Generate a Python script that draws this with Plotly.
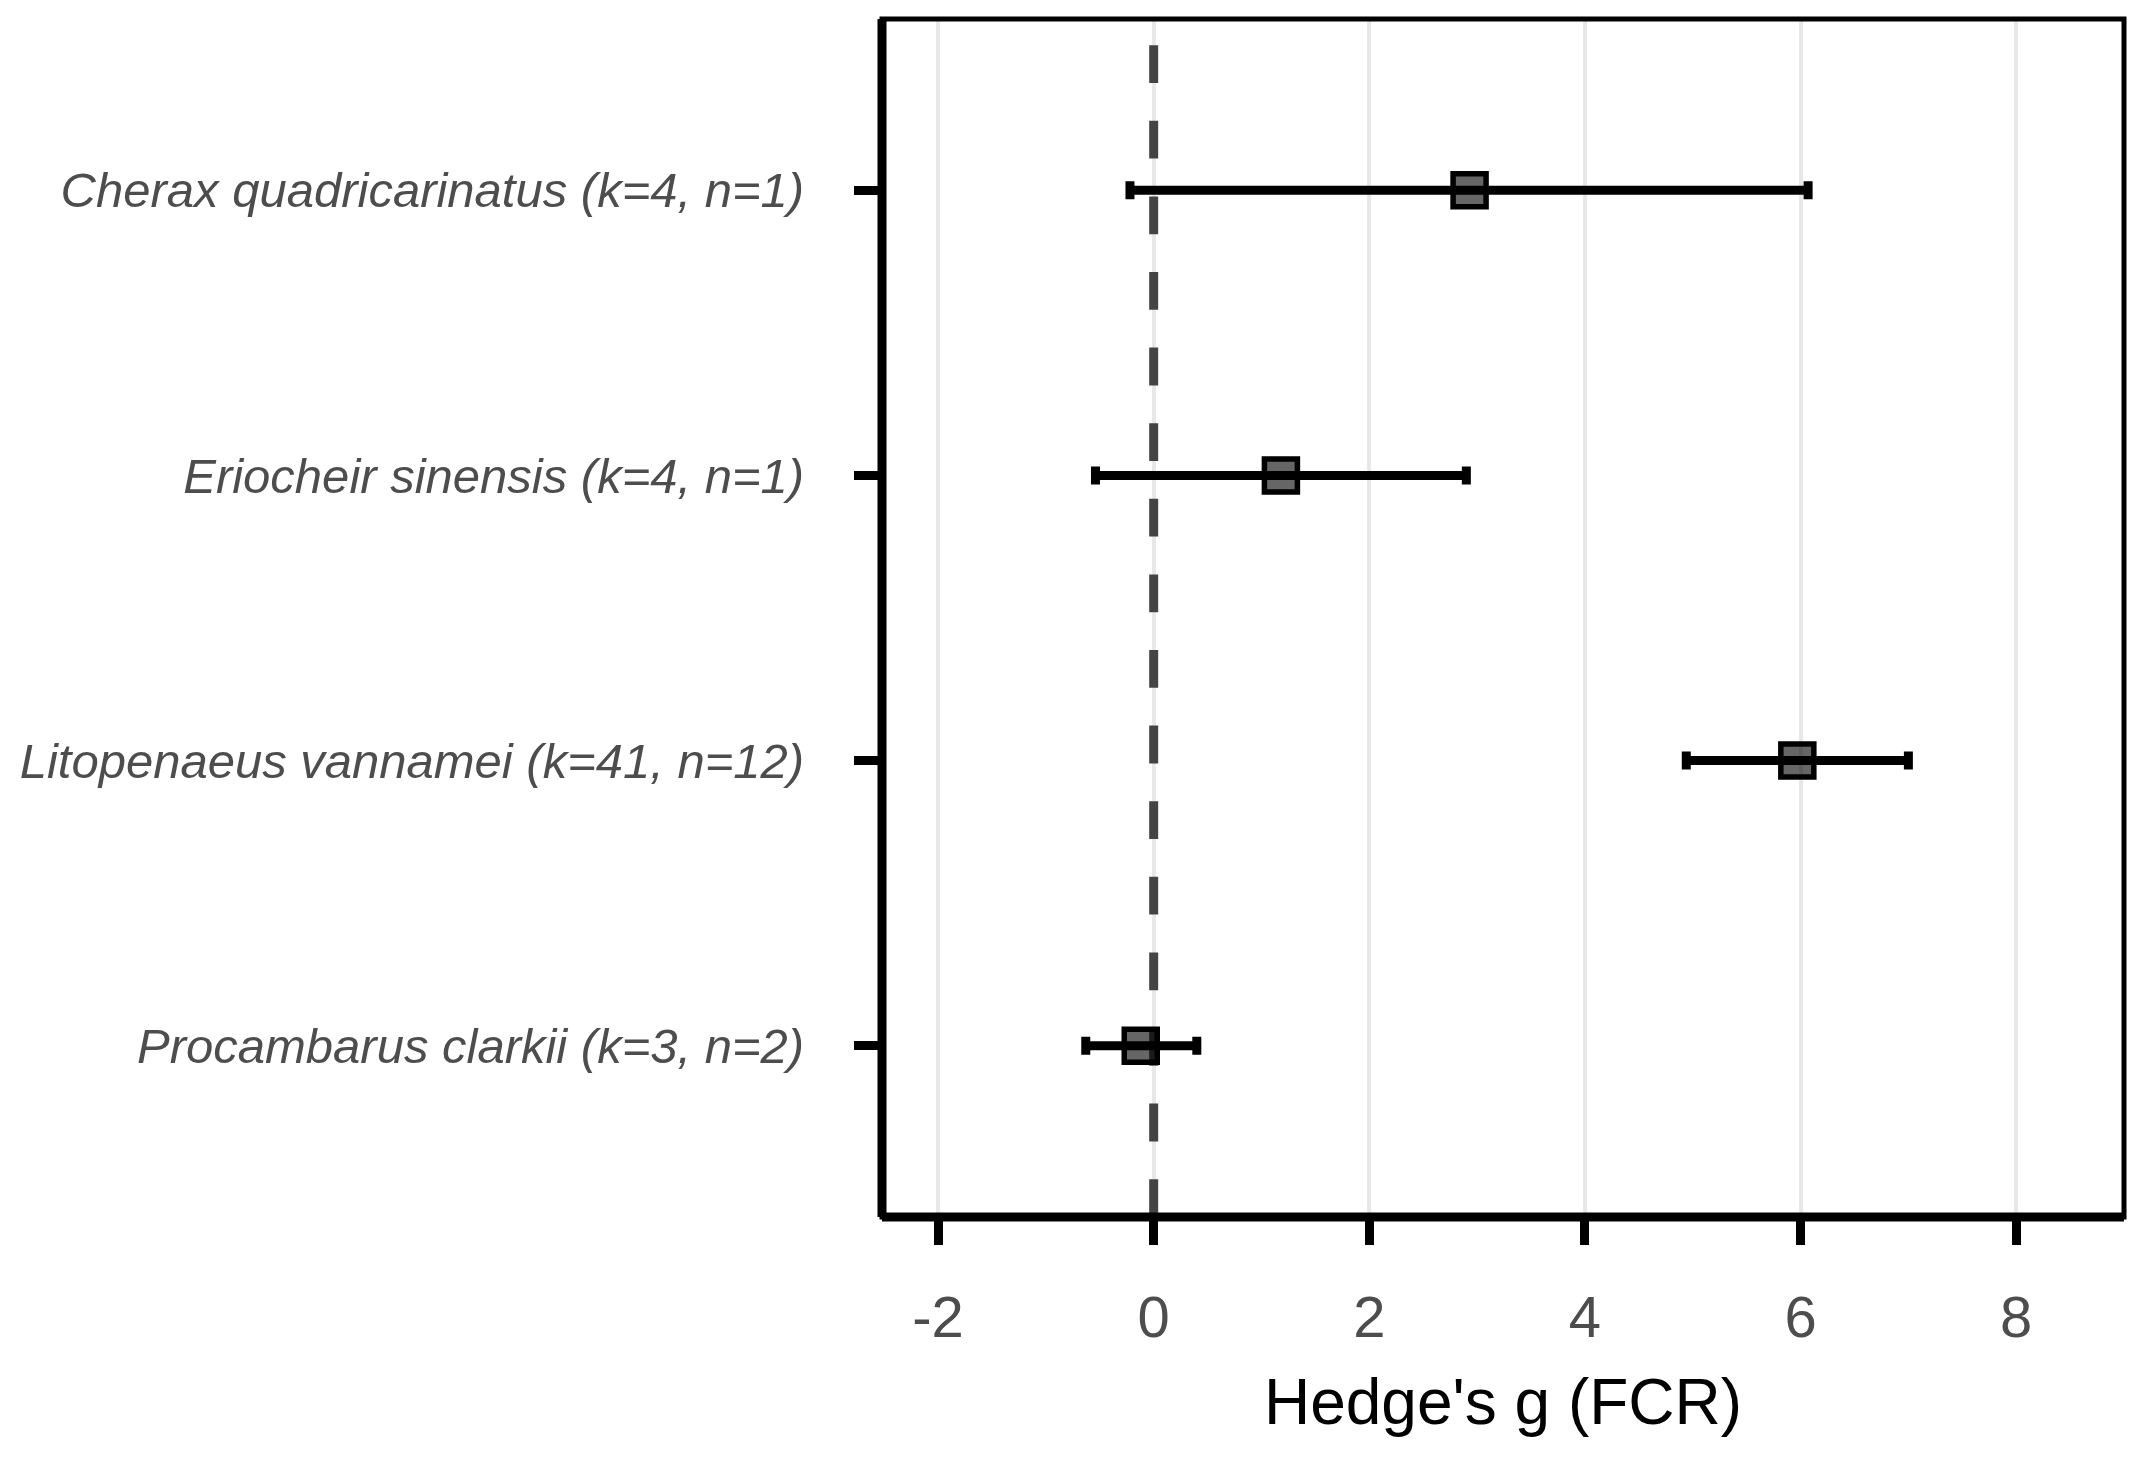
import plotly.graph_objects as go

species = [
    "Cherax quadricarinatus (k=4, n=1)",
    "Eriocheir sinensis (k=4, n=1)",
    "Litopenaeus vannamei (k=41, n=12)",
    "Procambarus clarkii (k=3, n=2)",
]
estimate = [2.93, 1.18, 5.97, -0.12]
lower = [-0.22, -0.54, 4.94, -0.63]
upper = [6.07, 2.90, 7.00, 0.40]
x_ticks = [-2, 0, 2, 4, 6, 8]
x_title = "Hedge's g (FCR)"
ref_value = 0

y_pos = list(range(len(species)))
y_range = [len(species) - 0.4, -0.6]
err_plus = [u - e for u, e in zip(upper, estimate)]
err_minus = [e - l for e, l in zip(estimate, lower)]

FONT = "Liberation Sans, Arial, sans-serif"

fig = go.Figure()
# reference line at zero (drawn first: above grid, below points)
fig.add_trace(go.Scatter(
    x=[ref_value, ref_value], y=y_range, mode="lines",
    line=dict(color="#444444", width=9, dash="37.8px,37.8px"),
    showlegend=False, hoverinfo="skip",
))
fig.add_trace(go.Scatter(
    x=estimate, y=y_pos, mode="markers",
    marker=dict(symbol="square", size=33, color="rgba(0,0,0,0.6)",
                line=dict(color="black", width=5.5)),
    error_x=dict(type="data", symmetric=False, array=err_plus, arrayminus=err_minus,
                 color="black", thickness=9, width=9),
    text=species, showlegend=False,
))

# panel border
fig.add_shape(type="rect", xref="paper", yref="paper", x0=0, x1=1, y0=0, y1=1,
              line=dict(color="black", width=5), layer="above")
# axis lines (left & bottom, thicker)
fig.add_shape(type="line", xref="paper", yref="paper", x0=0, x1=0, y0=0, y1=1,
              line=dict(color="black", width=9), layer="above")
fig.add_shape(type="line", xref="paper", yref="paper", x0=0, x1=1, y0=0, y1=0,
              line=dict(color="black", width=9), layer="above")

fig.update_layout(
    width=2144, height=1459,
    margin=dict(l=882, r=20, t=19, b=242),
    paper_bgcolor="white", plot_bgcolor="white",
    font=dict(family=FONT),
    xaxis=dict(
        range=[-2.52, 9.0], tickvals=x_ticks, ticktext=[str(v) for v in x_ticks],
        showgrid=True, gridcolor="#e8e8e8", gridwidth=4, zeroline=False,
        showline=False, ticks="outside", ticklen=27, tickwidth=9, tickcolor="black",
        tickfont=dict(family=FONT, size=58, color="#4d4d4d"),
        ticklabelstandoff=22,
        title=dict(text=x_title, font=dict(family=FONT, size=64, color="black"), standoff=31),
    ),
    yaxis=dict(
        range=y_range, tickvals=y_pos, ticktext=species,
        showgrid=False, zeroline=False, showline=False,
        ticks="outside", ticklen=27, tickwidth=9, tickcolor="black",
        tickfont=dict(family=FONT, size=49, color="#4d4d4d", style="italic"),
        ticklabelstandoff=40,
    ),
)

fig.write_html("out.html")
